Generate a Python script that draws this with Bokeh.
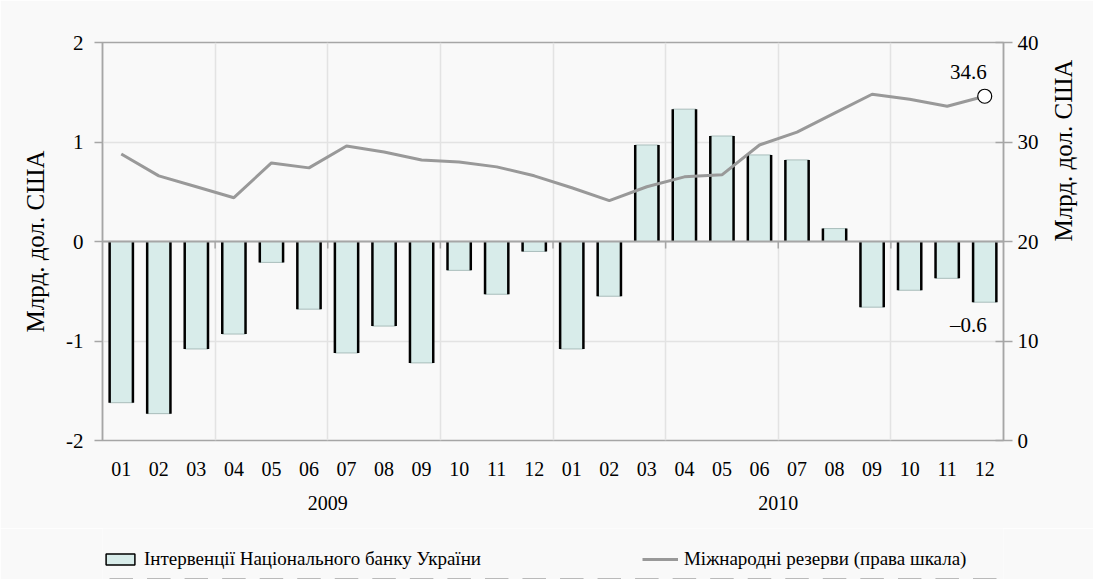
import math
from bokeh.plotting import figure
from bokeh.layouts import column
from bokeh.models import (LinearAxis, Range1d, FixedTicker, Legend, LegendItem,
                          ColumnDataSource, Span)
from bokeh.transform import dodge
from bokeh.core.properties import value
from bokeh.embed import file_html
from bokeh.resources import INLINE

months = ["01", "02", "03", "04", "05", "06", "07", "08", "09", "10", "11", "12",
          "01", "02", "03", "04", "05", "06", "07", "08", "09", "10", "11", "12"]
years = ["2009", "2010"]
interventions = [-1.62, -1.73, -1.08, -0.93, -0.21, -0.68, -1.12, -0.85, -1.22, -0.29, -0.53, -0.10,
                 -1.08, -0.55, 0.97, 1.33, 1.06, 0.87, 0.82, 0.13, -0.66, -0.49, -0.37, -0.61]
reserves = [28.8, 26.6, 25.5, 24.4, 27.9, 27.4, 29.6, 29.0, 28.2, 28.0, 27.5, 26.6,
            25.4, 24.1, 25.5, 26.5, 26.7, 29.7, 31.0, 32.9, 34.8, 34.3, 33.6, 34.6]
left_ticks = [-2, -1, 0, 1, 2]
right_ticks = [0, 10, 20, 30, 40]
bar_label = "Інтервенції Національного банку України"
line_label = "Міжнародні резерви (права шкала)"
axis_title = "Млрд. дол. США"

FONT = "Liberation Serif"
BG = "#f9f9f9"
AX = "#a6a6a6"
BAR_FILL = "#d8ecea"
LINE_COL = "#999999"
W = 0.62
n = len(months)
xs = list(range(n))
src = ColumnDataSource(dict(x=xs, v=interventions, r=reserves))

p = figure(width=1093, height=528, x_range=Range1d(-0.5, n - 0.5), y_range=Range1d(-2, 2),
           output_backend="svg", toolbar_location=None,
           min_border_left=102, min_border_right=87, min_border_top=42, min_border_bottom=88,
           background_fill_color=BG, border_fill_color=BG, outline_line_color=AX,
           outline_line_width=1.5)
p.extra_y_ranges = {"res": Range1d(0, 40)}

# grids
p.ygrid.ticker = FixedTicker(ticks=left_ticks)
p.ygrid.grid_line_color = "#e3e3e3"
p.ygrid.grid_line_width = 1.5
bounds = [i * 3 - 0.5 for i in range(1, n // 3)]
p.xgrid.ticker = FixedTicker(ticks=bounds)
p.xgrid.grid_line_color = "#e3e3e3"
p.xgrid.grid_line_width = 1.5


def style_y(ax):
    ax.axis_line_color = AX
    ax.axis_line_width = 1.5
    ax.major_tick_line_color = AX
    ax.major_tick_line_width = 1.5
    ax.minor_tick_line_color = None
    ax.major_label_text_font = FONT
    ax.major_label_text_font_size = "21px"
    ax.major_label_text_color = "black"
    ax.axis_label_text_font = FONT
    ax.axis_label_text_font_size = "25px"
    ax.axis_label_text_font_style = "normal"
    ax.axis_label_text_color = "black"


ya = p.yaxis[0]
ya.ticker = FixedTicker(ticks=left_ticks)
ya.major_label_overrides = {t: str(t) for t in left_ticks}
ya.axis_label = axis_title
style_y(ya)
ya.major_tick_out = 8
ya.major_tick_in = 0
ya.major_label_standoff = 11
ya.axis_label_standoff = 14

yr = LinearAxis(y_range_name="res", ticker=FixedTicker(ticks=right_ticks), axis_label=axis_title)
style_y(yr)
yr.major_tick_out = 9
yr.major_tick_in = 8
yr.major_label_standoff = 5
yr.axis_label_standoff = 22
yr.axis_label_orientation = math.pi / 2
p.add_layout(yr, "right")

# month axis
xa = p.xaxis[0]
xa.ticker = FixedTicker(ticks=xs)
xa.major_label_overrides = {i: m for i, m in enumerate(months)}
xa.axis_line_color = None
xa.major_tick_line_color = None
xa.minor_tick_line_color = None
xa.major_label_standoff = 15
xa.major_label_text_font = FONT
xa.major_label_text_font_size = "20px"
xa.major_label_text_color = "black"

# year axis
ycent = [(k * 12 + 5.5) for k in range(len(years))]
ya2 = LinearAxis(ticker=FixedTicker(ticks=ycent),
                 major_label_overrides={c: y for c, y in zip(ycent, years)})
ya2.axis_line_color = None
ya2.major_tick_line_color = None
ya2.minor_tick_line_color = None
ya2.major_label_standoff = 11
ya2.major_label_text_font = FONT
ya2.major_label_text_font_size = "20px"
ya2.major_label_text_color = "black"
p.add_layout(ya2, "below")

# bars
p.vbar(x="x", top="v", bottom=0, width=W, source=src,
       fill_color=BAR_FILL, line_color="#a9bdbb", line_width=1)
p.segment(x0=dodge("x", -W / 2), y0=0, x1=dodge("x", -W / 2), y1="v", source=src,
          line_color="black", line_width=2.5)
p.segment(x0=dodge("x", W / 2), y0=0, x1=dodge("x", W / 2), y1="v", source=src,
          line_color="black", line_width=2.5)

# zero line + small ticks
p.add_layout(Span(location=0, dimension="width", line_color=AX, line_width=2))
tsrc = ColumnDataSource(dict(x=bounds, y0=[0] * len(bounds), y1=[-0.07] * len(bounds)))
p.segment(x0="x", y0="y0", x1="x", y1="y1", source=tsrc, line_color=AX, line_width=1.5)

# reserves line
p.line(x="x", y="r", source=src, y_range_name="res", line_color=LINE_COL, line_width=3)
p.scatter(x=[xs[-1]], y=[reserves[-1]], y_range_name="res", size=14, marker="circle",
          fill_color="white", line_color="black", line_width=1.2)
p.text(x=[xs[-1]], y=[reserves[-1]], text=[f"{reserves[-1]:.1f}"], y_range_name="res",
       x_offset=2, y_offset=-17, text_align="right", text_baseline="bottom",
       text_font=value(FONT), text_font_size="21px", text_color="black")
p.text(x=[xs[-1]], y=[interventions[-1]], text=[f"\u2013{abs(interventions[-1]):.1f}"],
       x_offset=2, y_offset=11, text_align="right", text_baseline="top",
       text_font=value(FONT), text_font_size="21px", text_color="black")

# legend strip: a second figure whose view lies above all the data, holding only the legend
lf = figure(width=1093, height=51, x_range=Range1d(-0.5, n - 0.5), y_range=Range1d(100, 101),
            output_backend="svg", toolbar_location=None,
            x_axis_location=None, y_axis_location=None,
            min_border_left=0, min_border_right=0, min_border_top=0, min_border_bottom=0,
            background_fill_color=BG, border_fill_color=BG, outline_line_color=None)
lf.grid.visible = False
lb = lf.vbar(x="x", top="v", bottom=0, width=W, source=src,
             fill_color=BAR_FILL, line_color="black", line_width=1.5)
ll = lf.line(x="x", y="r", source=src, line_color=LINE_COL, line_width=3)
legend = Legend(items=[LegendItem(label=bar_label, renderers=[lb]),
                       LegendItem(label=line_label, renderers=[ll])],
                orientation="horizontal", location=(0, 9),
                border_line_color=None, background_fill_alpha=0,
                spacing=161, glyph_width=36, glyph_height=14, label_standoff=6,
                label_text_font=FONT, label_text_font_size="19px", label_text_color="black",
                padding=0, margin=0)
lf.add_layout(legend)

layout = column(p, lf, spacing=0)
open("out.html", "w").write(file_html(layout, INLINE))
